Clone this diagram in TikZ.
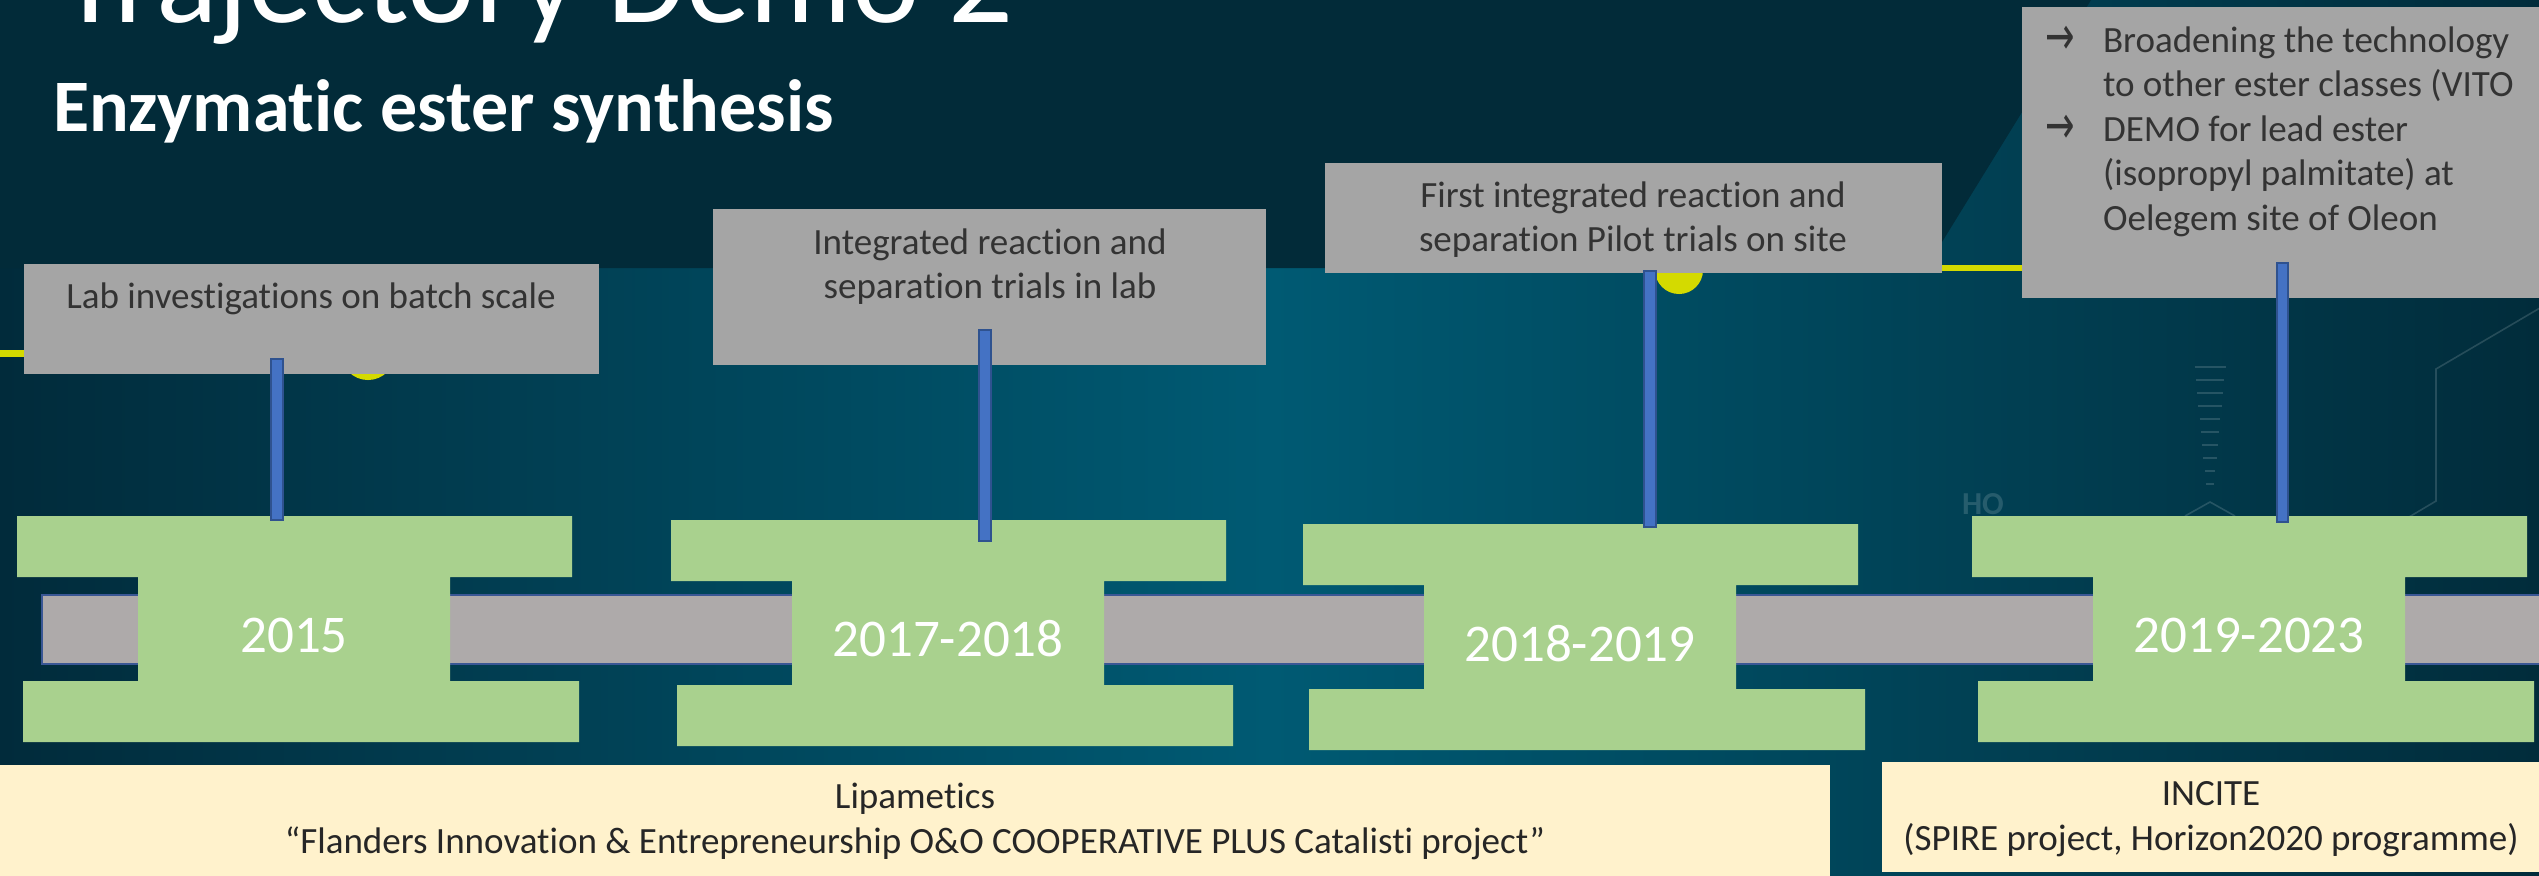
\documentclass[tikz,border=0pt]{standalone}
\usepackage{graphicx}
\usepackage{fontspec}
\setmainfont{Carlito}[Ligatures={TeX,NoCommon}]
\newfontfamily\arrowfont{DejaVu Sans}
\definecolor{bgL}{HTML}{012B3B}
\definecolor{bgM}{HTML}{005A73}
\definecolor{bgR}{HTML}{012C3B}
\definecolor{topdark}{HTML}{022B39}
\definecolor{yel}{HTML}{D4DA00}
\definecolor{boxgray}{HTML}{A5A5A5}
\definecolor{boxtxt}{HTML}{333333}
\definecolor{greenfill}{HTML}{A9D18E}
\definecolor{tlgray}{HTML}{AEAAAA}
\definecolor{tledge}{HTML}{3A5795}
\definecolor{barblue}{HTML}{4472C4}
\definecolor{baredge}{HTML}{2F528F}
\definecolor{beige}{HTML}{FFF2CC}
\definecolor{bottxt}{HTML}{262626}
\tikzset{
  graybox/.style={fill=boxgray, draw=none, rectangle, anchor=north west},
  beigebox/.style={fill=beige, draw=none, rectangle, anchor=north west},
  boxtext/.style={align=center, text=boxtxt, font=\fontsize{10.53pt}{12.66pt}\selectfont},
  bottext/.style={align=center, text=bottxt, font=\fontsize{10.53pt}{12.95pt}\selectfont},
  yeartext/.style={text=white, font=\fontsize{15.08pt}{18pt}\selectfont, anchor=base},
  bluebar/.style={fill=barblue, draw=baredge, line width=0.015cm},
  tlbar/.style={fill=tlgray, draw=tledge, line width=0.02cm},
  deco/.style={draw=white, draw opacity=0.15, line width=0.016cm},
}
\newcommand\arr{\makebox[0.58cm][l]{\raisebox{-0.02cm}{\scalebox{0.95}[1.45]{\arrowfont →}}}}
\newcommand\gshape[3]{%
  \fill[greenfill] ({#1-121},{#2}) -- ({#1+434},{#2}) -- ({#1+434},{#2+61}) -- ({#1+312},{#2+61})
    -- ({#1+312},{#2+165}) -- ({#1+441},{#2+165}) -- ({#1+441},{#2+226}) -- ({#1-115},{#2+226})
    -- ({#1-115},{#2+165}) -- ({#1},{#2+165}) -- ({#1},{#2+61}) -- ({#1-121},{#2+61}) -- cycle;
  \coordinate (#3) at ({#1+156},{#2+113});
}
\begin{document}
\begin{tikzpicture}[x=0.01cm,y=-0.01cm, every node/.style={inner sep=0pt,outer sep=0pt}]
\useasboundingbox (0,0) rectangle (2539,875);
\clip (0,0) rectangle (2539,875);
% background
\shade[left color=bgL, right color=bgR, middle color=bgM] (0,0) rectangle (2539,875);
\fill[topdark] (0,0) -- (2091,0) -- (1926,268) -- (0,268) -- cycle;
% faint chemical decoration
\foreach \i in {0,...,9}
  \draw[deco] ({2210-15.5+1.28*\i},{367+13*\i}) -- ({2210+15.5-1.28*\i},{367+13*\i});
\draw[deco] (2185,516) -- (2210,502) -- (2235,516);
\draw[deco] (2545,305) -- (2436,369) -- (2436,501) -- (2409,517);
\node[anchor=base west, text=white, text opacity=0.15, font=\bfseries\fontsize{9.1pt}{10pt}\selectfont] (ho) at (1962,514) {HO};
% yellow template line
\draw[yel, line width=0.07cm] (0,353) -- (368,353);
\fill[yel] (368,353) circle (0.27cm);
\draw[yel, line width=0.06cm] (1679,268) -- (2100,268);
\fill[yel] (1679,270) circle (0.24cm);
% titles
\node[anchor=base west, text=white, font=\fontsize{36.4pt}{40pt}\selectfont] (title) at (60,22) {Trajectory Demo 2};
\node[anchor=base west, text=white, font=\bfseries\fontsize{21.05pt}{25pt}\selectfont] (sub) at (53,131) {Enzymatic ester synthesis};
% gray text boxes
\node[graybox, minimum width=5.75cm, minimum height=1.10cm] (b1) at (24,264) {};
\node[graybox, minimum width=5.53cm, minimum height=1.56cm] (b2) at (713,209) {};
\node[graybox, minimum width=6.17cm, minimum height=1.10cm] (b3) at (1325,163) {};
\node[graybox, minimum width=5.30cm, minimum height=2.91cm] (b4) at (2022,7) {};
% bottom boxes
\node[beigebox, minimum width=18.29cm, minimum height=1.15cm] (f1box) at (0,765) {};
\node[beigebox, minimum width=6.70cm, minimum height=1.10cm] (f2box) at (1882,762) {};
% timeline bar
\draw[tlbar] (42,595) rectangle (2560,664);
% green year shapes
\gshape{138}{516}{g1}
\gshape{792}{520}{g2}
\gshape{1424}{524}{g3}
\gshape{2093}{516}{g4}
% connectors (blue bars)
\coordinate (c1a) at (271,359); \coordinate (c1b) at (283,520);
\coordinate (c2a) at (979,330); \coordinate (c2b) at (991,541);
\coordinate (c3a) at (1644,271); \coordinate (c3b) at (1656,527);
\coordinate (c4a) at (2277,263); \coordinate (c4b) at (2288,522);
\path[bluebar] (c1a) rectangle (c1b);
\path[bluebar] (c2a) rectangle (c2b);
\path[bluebar] (c3a) rectangle (c3b);
\path[bluebar] (c4a) rectangle (c4b);
% year labels
\node[yeartext] (y1) at (294,652) {2015};
\node[yeartext] (y2) at (948,656) {2017-2018};
\node[yeartext] (y3) at (1580,661) {2018-2019};
\node[yeartext] (y4) at (2249,652) {2019-2023};
% box texts
\node[boxtext, anchor=north] (t1) at (311,276) {\rule{0pt}{0.32cm}Lab investigations on batch scale};
\node[boxtext, anchor=north] (t2) at (990,222) {\rule{0pt}{0.32cm}Integrated reaction and\\separation trials in lab};
\node[boxtext, anchor=north] (t3) at (1633,175) {\rule{0pt}{0.32cm}First integrated reaction and\\separation Pilot trials on site};
\node[boxtext, align=left, anchor=north west] (t4) at (2045,20) {\rule{0pt}{0.32cm}\arr Broadening the technology\\
\hspace*{0.58cm}to other ester classes (VITO\\
\arr DEMO for lead ester\\
\hspace*{0.58cm}(isopropyl palmitate) at\\
\hspace*{0.58cm}Oelegem site of Oleon};
% funding texts
\node[bottext, anchor=north] (f1) at (915,776) {\rule{0pt}{0.32cm}Lipametics\\“Flanders Innovation \& Entrepreneurship O\&O COOPERATIVE PLUS Catalisti project”};
\node[bottext, anchor=north] (f2) at (2211,773) {\rule{0pt}{0.32cm}INCITE\\(SPIRE project, Horizon2020 programme)};
\end{tikzpicture}
\end{document}
